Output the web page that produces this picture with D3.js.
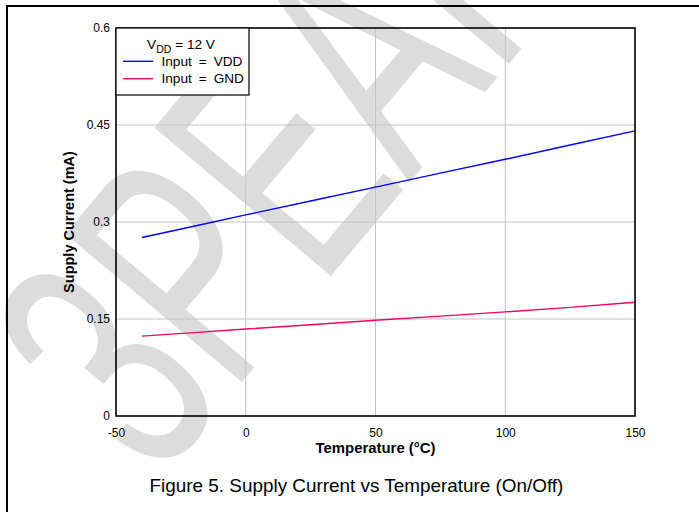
<!DOCTYPE html>
<html>
<head>
<meta charset="utf-8">
<script src="https://cdn.jsdelivr.net/npm/d3@7"></script>
<style>
  html, body { margin: 0; padding: 0; background: #fff; }
  svg { display: block; }
  text { font-family: "Liberation Sans", Arial, sans-serif; fill: #000; }
</style>
</head>
<body>
<div id="chart"></div>
<script>
// ---- data ----
const temperatures = [-40, -20, 0, 25, 50, 75, 100, 125, 150];
const supplyInputVdd = [0.276, 0.2935, 0.311, 0.3325, 0.354, 0.3755, 0.397, 0.419, 0.441];
const supplyInputGnd = [0.1235, 0.129, 0.1345, 0.141, 0.148, 0.1545, 0.161, 0.168, 0.1758];
const seriesNames = ["Input = VDD", "Input = GND"];
const seriesColors = ["#0000ff", "#ff0060"];
const xTickValues = [-50, 0, 50, 100, 150];
const xTickLabels = ["-50", "0", "50", "100", "150"];
const yTickValues = [0, 0.15, 0.3, 0.45, 0.6];
const yTickLabels = ["0", "0.15", "0.3", "0.45", "0.6"];
const xTitle = "Temperature (°C)";
const yTitle = "Supply Current (mA)";
const caption = "Figure 5. Supply Current vs Temperature (On/Off)";
const watermark = "3PEAK";

// ---- layout ----
const W = 699, H = 512;
const plot = { left: 116, right: 635, top: 28, bottom: 416 };

const svg = d3.select("#chart").append("svg")
  .attr("width", W).attr("height", H);

const x = d3.scaleLinear().domain([-50, 150]).range([plot.left, plot.right]);
const y = d3.scaleLinear().domain([0, 0.6]).range([plot.bottom, plot.top]);

// watermark (behind everything)
svg.append("text")
  .attr("transform", "translate(280,150) rotate(-50) scale(0.62,1)")
  .attr("text-anchor", "middle")
  .attr("dy", "0.358em")
  .style("font-size", "335px")
  .style("fill", "#dcdcdc")
  .text(watermark);

// gridlines
const grid = svg.append("g");
grid.selectAll("line.gx").data(xTickValues.slice(1, -1)).join("line")
  .attr("x1", d => x(d)).attr("x2", d => x(d))
  .attr("y1", plot.top).attr("y2", plot.bottom)
  .attr("stroke", "#c4c4c4").attr("stroke-width", 1);
grid.selectAll("line.gy").data(yTickValues.slice(1, -1)).join("line")
  .attr("x1", plot.left).attr("x2", plot.right)
  .attr("y1", d => y(d)).attr("y2", d => y(d))
  .attr("stroke", "#c4c4c4").attr("stroke-width", 1);

// axes (labels only)
const xAxis = svg.append("g")
  .attr("transform", `translate(0,${plot.bottom})`)
  .call(d3.axisBottom(x).tickValues(xTickValues)
    .tickFormat((d, i) => xTickLabels[i]).tickSize(0).tickPadding(12));
xAxis.select(".domain").remove();
xAxis.selectAll("text").style("font-size", "12px")
  .style("font-family", "'Liberation Sans', Arial, sans-serif").attr("fill", "#000");

const yAxis = svg.append("g")
  .attr("transform", `translate(${plot.left},0)`)
  .call(d3.axisLeft(y).tickValues(yTickValues)
    .tickFormat((d, i) => yTickLabels[i]).tickSize(0).tickPadding(6));
yAxis.select(".domain").remove();
yAxis.selectAll("text").style("font-size", "12px")
  .style("font-family", "'Liberation Sans', Arial, sans-serif").attr("fill", "#000");

// data lines
const line = d3.line().x(d => x(d[0])).y(d => y(d[1]));
const seriesData = [supplyInputVdd, supplyInputGnd];
svg.append("g").selectAll("path").data(seriesData).join("path")
  .attr("d", vals => line(temperatures.map((t, i) => [t, vals[i]])))
  .attr("fill", "none")
  .attr("stroke", (d, i) => seriesColors[i])
  .attr("stroke-width", 1.4);

// plot border
svg.append("rect")
  .attr("x", plot.left).attr("y", plot.top)
  .attr("width", plot.right - plot.left).attr("height", plot.bottom - plot.top)
  .attr("fill", "none").attr("stroke", "#000").attr("stroke-width", 1.6);

// legend
const lg = svg.append("g");
lg.append("rect").attr("x", plot.left).attr("y", plot.top)
  .attr("width", 133).attr("height", 67)
  .attr("fill", "#fff").attr("stroke", "#111").attr("stroke-width", 1.3);
const lt = lg.append("text")
  .attr("transform", "translate(181,48.7) scale(1.05,1)")
  .attr("text-anchor", "middle").style("font-size", "13px");
lt.append("tspan").text("V");
lt.append("tspan").attr("dy", 4).style("font-size", "10px").text("DD");
lt.append("tspan").attr("dy", -4).text(" = 12 V");
seriesNames.forEach((name, i) => {
  const yy = [61.3, 78.7][i];
  lg.append("line").attr("x1", 123).attr("x2", 153)
    .attr("y1", yy).attr("y2", yy)
    .attr("stroke", seriesColors[i]).attr("stroke-width", 1.4);
  lg.append("text")
    .attr("transform", `translate(161.5,${[65.7, 83][i]}) scale(1.05,1)`)
    .style("font-size", "13px").style("word-spacing", "3px")
    .text(name);
});

// axis titles
svg.append("text")
  .attr("transform", `translate(${(plot.left + plot.right) / 2},453) scale(1.03,1)`)
  .attr("text-anchor", "middle")
  .style("font-size", "14.5px").style("font-weight", "bold")
  .text(xTitle);
svg.append("text")
  .attr("transform", `translate(73.5,${(plot.top + plot.bottom) / 2}) rotate(-90)`)
  .attr("text-anchor", "middle")
  .style("font-size", "14.5px").style("font-weight", "bold")
  .text(yTitle);

// caption
svg.append("text")
  .attr("transform", "translate(356.5,492) scale(1.05,1)")
  .attr("text-anchor", "middle")
  .style("font-size", "18px")
  .text(caption);

// page frame lines
svg.append("line").attr("x1", 6).attr("x2", W).attr("y1", 6).attr("y2", 6)
  .attr("stroke", "#000").attr("stroke-width", 2);
svg.append("line").attr("x1", 7).attr("x2", 7).attr("y1", 5).attr("y2", H)
  .attr("stroke", "#000").attr("stroke-width", 2);
</script>
</body>
</html>
